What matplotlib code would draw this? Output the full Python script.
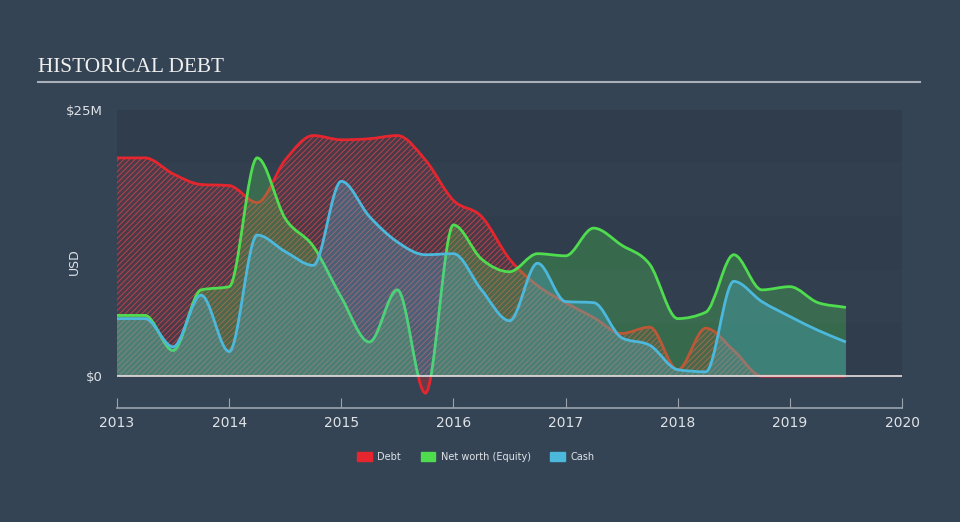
import numpy as np
import matplotlib.pyplot as plt
from matplotlib.path import Path
from matplotlib.patches import PathPatch, Patch, Rectangle

# quarterly values, in $M
dates = [2013.0, 2013.25, 2013.5, 2013.75, 2014.0, 2014.25, 2014.5, 2014.75,
         2015.0, 2015.25, 2015.5, 2015.75, 2016.0, 2016.25, 2016.5, 2016.75,
         2017.0, 2017.25, 2017.5, 2017.75, 2018.0, 2018.25, 2018.5, 2018.75,
         2019.0, 2019.25, 2019.5]
debt = [20.5, 20.5, 19.0, 18.0, 17.9, 16.3, 20.3, 22.6,
        22.2, 22.3, 22.6, 20.3, 16.5, 15.0, 11.0, 8.5,
        6.9, 5.5, 4.0, 4.6, 0.6, 4.5, 2.4, 0.0,
        0.0, 0.0, 0.0]
equity = [5.7, 5.7, 2.4, 8.1, 8.4, 20.5, 14.8, 12.2,
          7.4, 3.2, 8.1, -1.6, 14.2, 11.0, 9.8, 11.5,
          11.3, 13.9, 12.3, 10.5, 5.4, 6.0, 11.4, 8.1,
          8.4, 6.9, 6.45]
cash = [5.4, 5.4, 2.75, 7.6, 2.3, 13.25, 11.7, 10.4,
        18.3, 15.0, 12.6, 11.4, 11.5, 8.1, 5.2, 10.6,
        7.0, 6.9, 3.6, 2.9, 0.6, 0.4, 8.9, 7.0,
        5.6, 4.3, 3.2]
year_ticks = [2013, 2014, 2015, 2016, 2017, 2018, 2019, 2020]

bg = '#344454'
c_debt = '#e5262e'
c_eq = '#4fdc4f'
c_cash = '#4bb8dc'


def slopes(x, y):
    x = np.asarray(x, float)
    y = np.asarray(y, float)
    h = np.diff(x)
    d = np.diff(y) / h
    m = np.zeros(len(x))
    m[0], m[-1] = d[0], d[-1]
    for i in range(1, len(x) - 1):
        if d[i - 1] * d[i] <= 0:
            m[i] = 0
        else:
            p = (d[i - 1] * h[i] + d[i] * h[i - 1]) / (h[i - 1] + h[i])
            m[i] = np.sign(d[i]) * min(abs(d[i - 1]), abs(d[i]), 0.5 * abs(p)) * 2
    return m


def smooth_path(x, y, closed=False):
    m = slopes(x, y)
    verts = [(x[0], y[0])]
    codes = [Path.MOVETO]
    for i in range(len(x) - 1):
        h = x[i + 1] - x[i]
        verts += [(x[i] + h / 3, y[i] + m[i] * h / 3),
                  (x[i + 1] - h / 3, y[i + 1] - m[i + 1] * h / 3),
                  (x[i + 1], y[i + 1])]
        codes += [Path.CURVE4] * 3
    if closed:
        verts += [(x[-1], 0), (x[0], 0), (x[0], 0)]
        codes += [Path.LINETO, Path.LINETO, Path.CLOSEPOLY]
    return Path(verts, codes)


plt.rcParams['hatch.linewidth'] = 0.7
fig = plt.figure(figsize=(9.6, 5.22), dpi=100, facecolor=bg)
ax = fig.add_axes([117 / 960, 1 - 408 / 522, 785 / 960, 298 / 522])
ax.set_facecolor(bg)
ax.set_xlim(2013, 2020)
ax.set_ylim(-3, 25)

# striped plot background
shades = ['#2f3d4c', '#323f4f']
for k in range(5):
    ax.axhspan(k * 5, (k + 1) * 5, color=shades[k % 2], lw=0, zorder=0)

above = Rectangle((2012, 0), 10, 40, transform=ax.transData)
below = Rectangle((2012, -10), 10, 10, transform=ax.transData)

# debt
ax.add_patch(PathPatch(smooth_path(dates, debt, True), facecolor=(0.9, 0.15, 0.18, 0.15),
                       edgecolor=(0.86, 0.28, 0.3, 0.75), lw=0, hatch='//////', zorder=2))
ax.add_patch(PathPatch(smooth_path(dates, debt), fill=False, edgecolor=c_debt, lw=2, zorder=3))

# equity
p = PathPatch(smooth_path(dates, equity, True), facecolor=c_eq, alpha=0.28, lw=0, zorder=4)
ax.add_patch(p)
p.set_clip_path(above)
p = PathPatch(smooth_path(dates, equity, True), facecolor=c_debt, alpha=0.3, lw=0, zorder=4)
ax.add_patch(p)
p.set_clip_path(below)
p = PathPatch(smooth_path(dates, equity), fill=False, edgecolor=c_eq, lw=2, zorder=5)
ax.add_patch(p)
p.set_clip_path(above)
p = PathPatch(smooth_path(dates, equity), fill=False, edgecolor=c_debt, lw=2, zorder=5)
ax.add_patch(p)
p.set_clip_path(below)

# cash
ax.add_patch(PathPatch(smooth_path(dates, cash, True), facecolor=c_cash, alpha=0.3, lw=0, zorder=6))
ax.add_patch(PathPatch(smooth_path(dates, cash), fill=False, edgecolor=c_cash, lw=2, zorder=7))

ax.axhline(0, color='#e8e0e0', lw=1.2, zorder=8)

for s in ['top', 'right', 'left']:
    ax.spines[s].set_visible(False)
ax.spines['bottom'].set_color('#9aa4ae')
ax.spines['bottom'].set_linewidth(1.2)
ax.set_xticks(year_ticks)
ax.set_xticklabels([str(y) for y in year_ticks])
ax.tick_params(axis='x', direction='in', length=7, color='#9aa4ae', labelcolor='#dfe3e8',
               labelsize=10, pad=6)
ax.set_yticks([0, 25])
ax.set_yticklabels(['$0', '$25M'])
ax.tick_params(axis='y', length=0, labelcolor='#dfe3e8', labelsize=9.5, pad=10)
ax.set_ylabel('USD', color='#dfe3e8', fontsize=9)
ax.yaxis.set_label_coords(-36 / 785, 0.49)

fig.text(38 / 960, 1 - 67 / 522, 'HISTORICAL DEBT', family='Liberation Serif', fontsize=15.3,
         color='#f0f0f0', va='center', ha='left')
fig.add_artist(plt.Line2D([38 / 960, 920 / 960], [1 - 82 / 522] * 2, color='#a9b0b8', lw=1.5))

handles = [Patch(color=c_debt, label='Debt'), Patch(color=c_eq, label='Net worth (Equity)'),
           Patch(color=c_cash, label='Cash')]
fig.legend(handles=handles, loc='center', bbox_to_anchor=(476 / 960, 1 - 457 / 522), ncol=3,
           frameon=False, fontsize=7, labelcolor='#dfe3e8', handlelength=1.5, handleheight=1.1,
           handletextpad=0.6, columnspacing=2.0)

fig.savefig('out.png', dpi=100, facecolor=bg)
